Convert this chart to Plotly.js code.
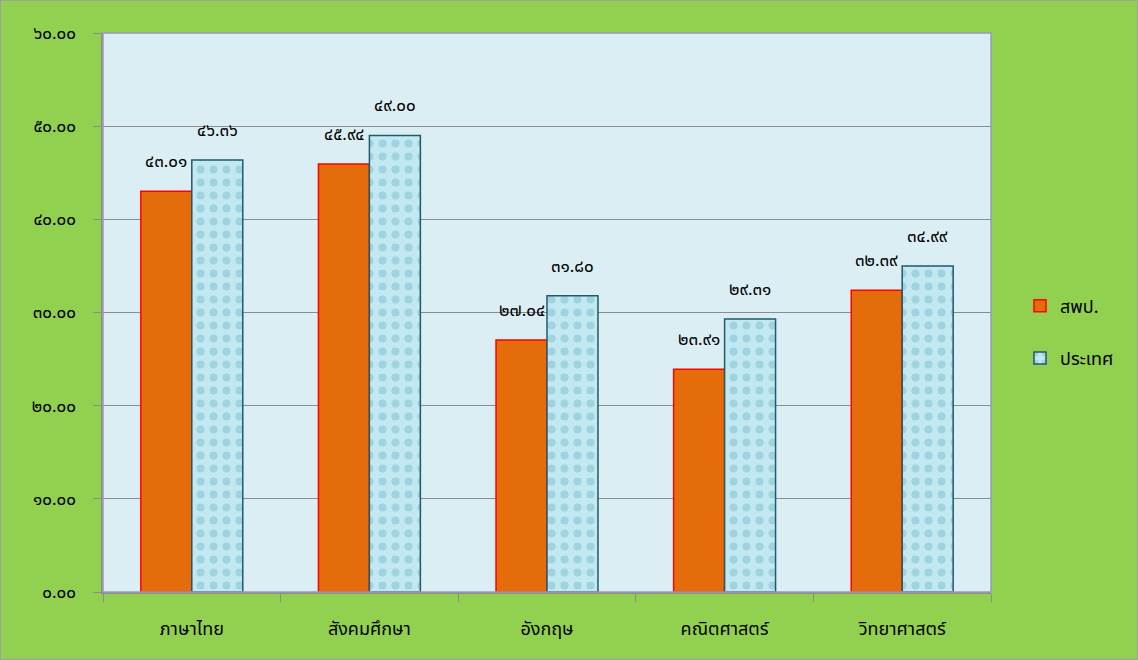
<!DOCTYPE html>
<html>
<head>
<meta charset="utf-8">
<script src="https://cdn.plot.ly/plotly-3.0.1.min.js"></script>
<style>html,body{margin:0;padding:0;background:#92d050;}#chart{width:1138px;height:660px;}</style>
</head>
<body>
<div id="chart"></div>
<script>
const categories = ['ภาษาไทย', 'สังคมศึกษา', 'อังกฤษ', 'คณิตศาสตร์', 'วิทยาศาสตร์'];
const seriesNames = ['สพป.', 'ประเทศ'];
const spp = [43.01, 45.94, 27.04, 23.91, 32.39];
const country = [46.36, 49.00, 31.80, 29.31, 34.99];
const tickVals = [0, 10, 20, 30, 40, 50, 60];

const thaiDigits = '๐๑๒๓๔๕๖๗๘๙';
function toThai(s) { return String(s).replace(/[0-9]/g, d => thaiDigits[+d]); }
const tickText = tickVals.map(v => toThai(v.toFixed(2)));

const barHalf = 0.1435;
const annotations = [];
spp.forEach((v, i) => annotations.push({x: i - barHalf, y: v, xref: 'x', yref: 'y', text: toThai(v.toFixed(2)),
  showarrow: false, yanchor: 'bottom', yshift: 14, font: {size: 17, color: '#000'}}));
country.forEach((v, i) => annotations.push({x: i + barHalf, y: v, xref: 'x', yref: 'y', text: toThai(v.toFixed(2)),
  showarrow: false, yanchor: 'bottom', yshift: 14, font: {size: 17, color: '#000'}}));

const data = [
  {type: 'bar', name: seriesNames[0], x: categories, y: spp, legendgroup: 'a',
   marker: {color: '#e46c0a', line: {color: '#ff0000', width: 1.5}}},
  {type: 'bar', name: seriesNames[1], x: categories, y: country, legendgroup: 'b',
   marker: {color: '#bfe7f0', line: {color: '#215a6a', width: 1.5},
     pattern: {shape: '.', bgcolor: '#c2e9f1', fgcolor: '#9fd3e0', size: 13, solidity: 0.3}}}
];

const layout = {
  width: 1138, height: 660,
  paper_bgcolor: '#92d050', plot_bgcolor: '#dbeef4',
  margin: {l: 103, r: 147, t: 33, b: 68},
  barmode: 'group', bargap: 0.426, bargroupgap: 0,
  font: {family: 'Noto Sans Thai, DejaVu Sans, sans-serif', color: '#000'},
  xaxis: {type: 'category', tickson: 'boundaries', ticks: 'outside', ticklen: 8, tickcolor: '#8c8c8c',
    showline: true, linecolor: '#8c8c8c', linewidth: 1.5, mirror: false, showgrid: false,
    tickfont: {size: 18}, ticklabelstandoff: 20, automargin: false},
  yaxis: {range: [0, 60], tickvals: tickVals, ticktext: tickText, ticks: 'outside', ticklen: 8,
    tickcolor: '#8c8c8c', showline: true, linecolor: '#8c8c8c', linewidth: 1.5,
    gridcolor: '#8c8c8c', gridwidth: 1.2, zeroline: false, tickfont: {size: 17},
    ticklabelposition: 'outside', ticklabelstandoff: 14, automargin: false},
  legend: {xref: 'container', yref: 'container', x: 1020/1138, y: 1 - 332/660, xanchor: 'left', yanchor: 'middle',
    bgcolor: 'rgba(0,0,0,0)', font: {size: 18}, tracegroupgap: 26, traceorder: 'grouped'},
  annotations: annotations,
  shapes: [
    {type: 'rect', xref: 'paper', yref: 'paper', x0: 0, x1: 1, y0: 0, y1: 1, line: {color: '#9a9ab8', width: 1.5}},
    {type: 'rect', xref: 'paper', yref: 'paper', x0: -103/888, x1: 1 + 147/888, y0: -68/559, y1: 1 + 33/559,
     line: {color: '#a0a0a0', width: 2}}
  ]
};
Plotly.newPlot('chart', data, layout, {displayModeBar: false});
</script>
</body>
</html>
